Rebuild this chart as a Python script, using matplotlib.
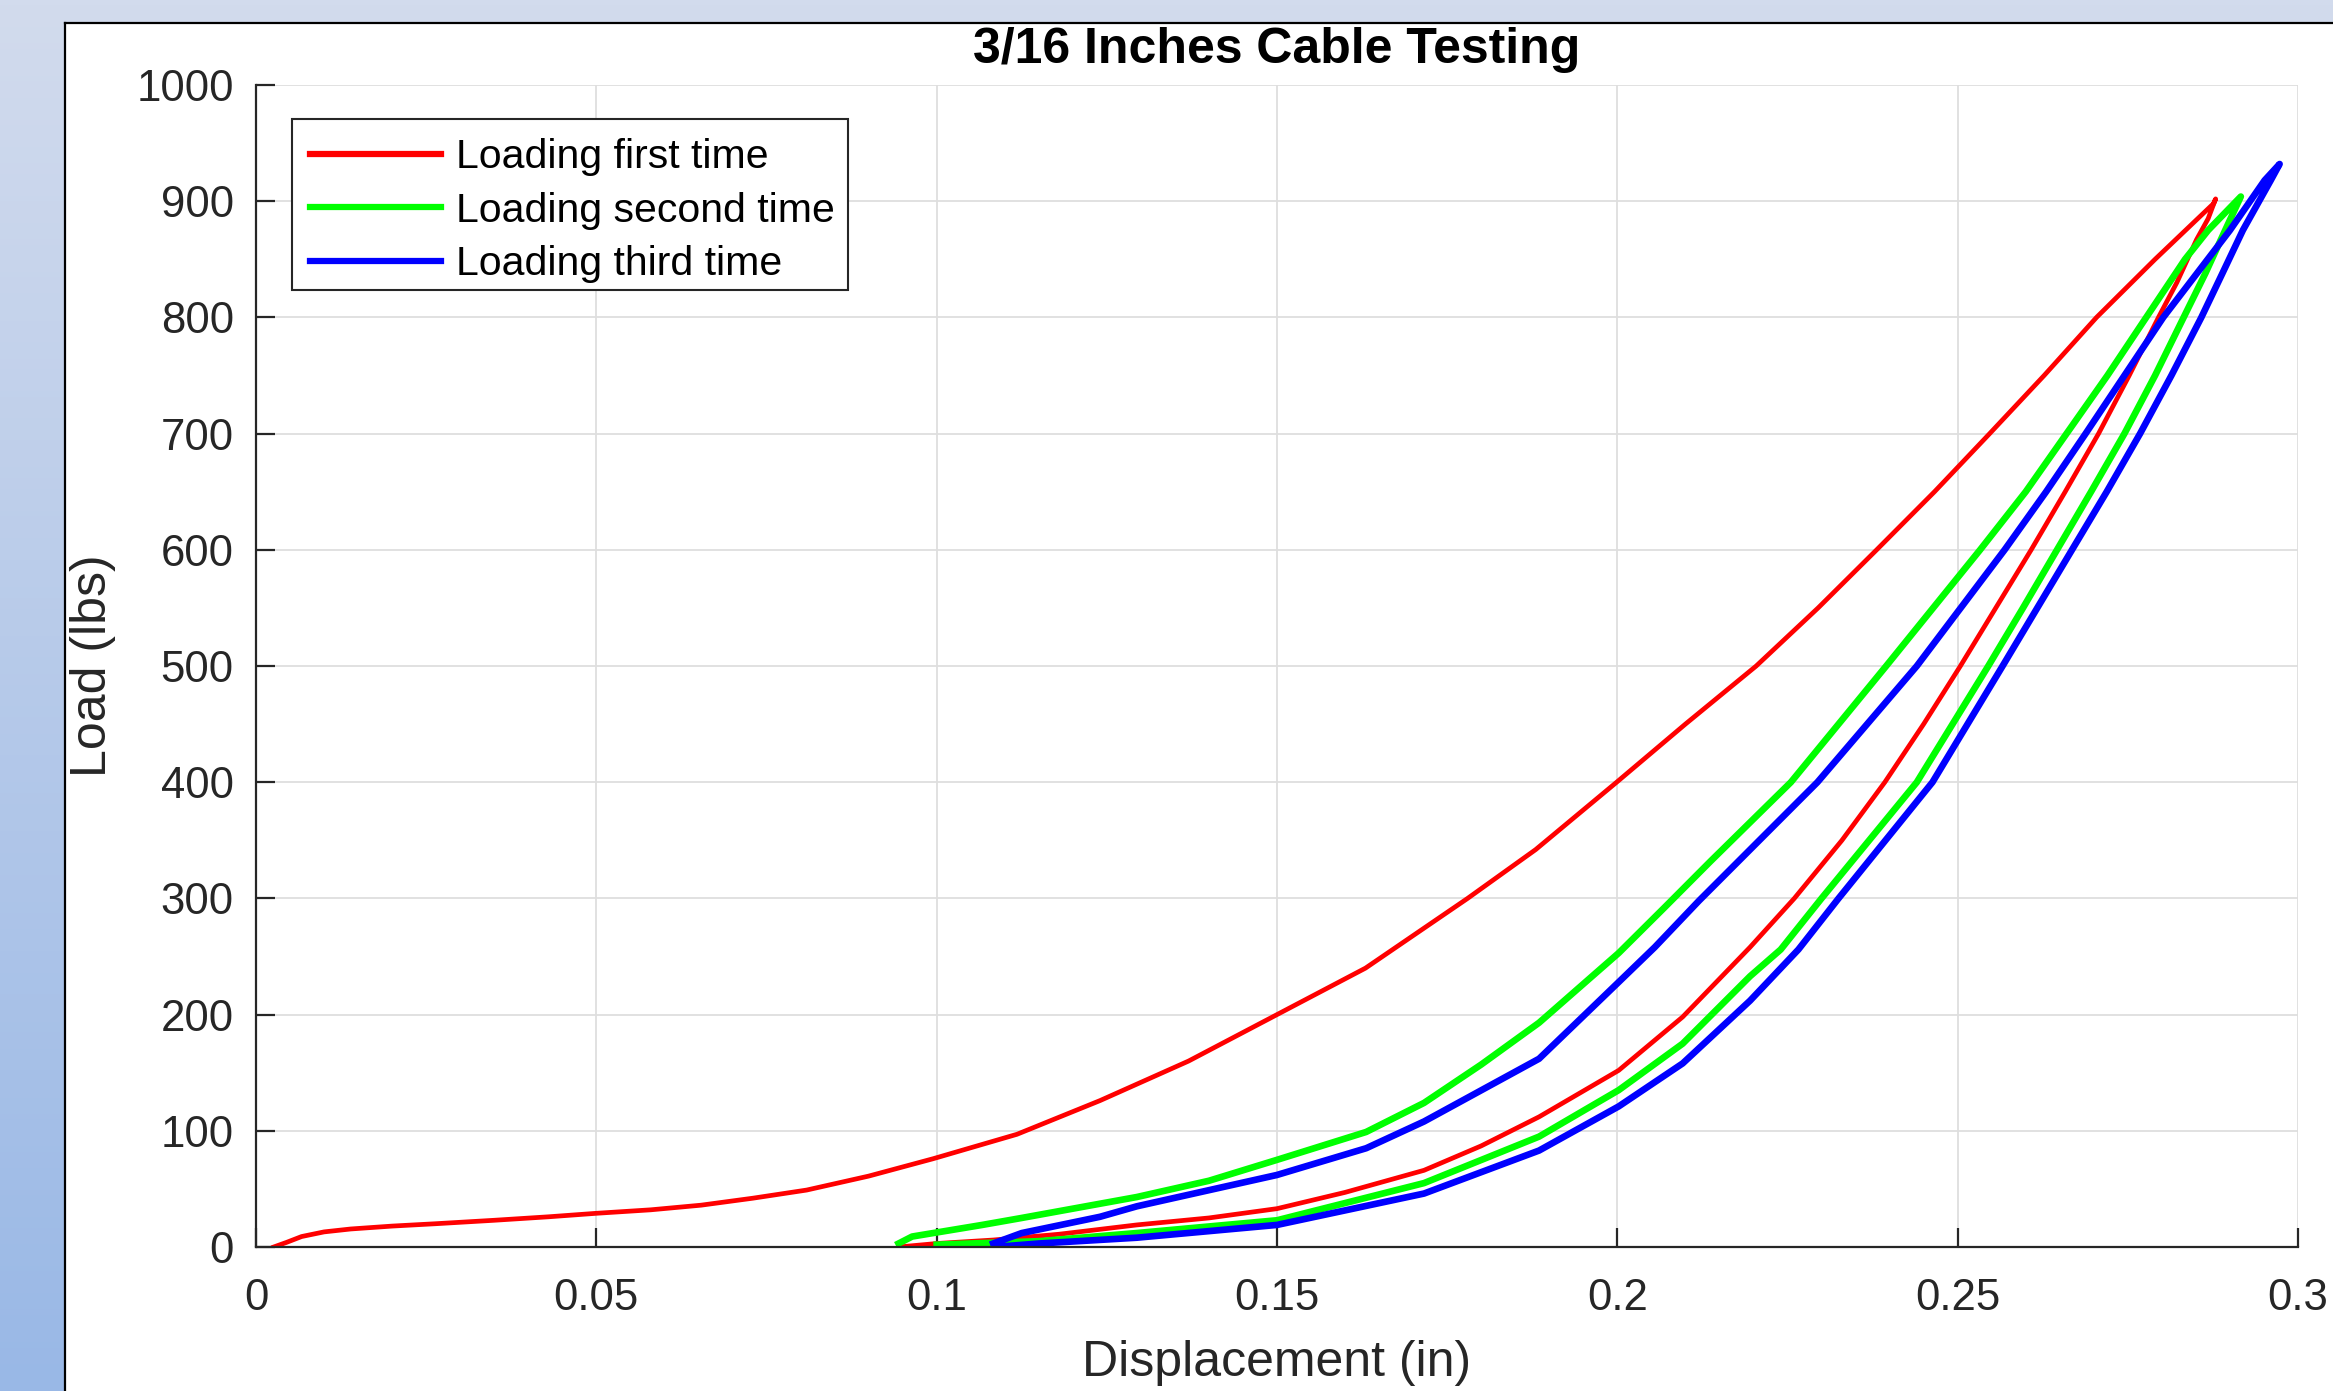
import numpy as np
import matplotlib
matplotlib.use('Agg')
import matplotlib.pyplot as plt
from matplotlib.lines import Line2D
from matplotlib.patches import Rectangle

plt.rcParams['font.family'] = ['Liberation Sans', 'DejaVu Sans']

# first loading cycle (loading branch then unloading branch)
disp_1 = [0.0026, 0.0045, 0.0067, 0.010, 0.0139, 0.020, 0.0263, 0.035, 0.043, 0.050,
          0.058, 0.0654, 0.073, 0.0809, 0.090, 0.0995, 0.1118, 0.124, 0.137, 0.150,
          0.163, 0.178, 0.188, 0.1999, 0.210, 0.2204, 0.2295, 0.2381, 0.2466, 0.2547,
          0.2627, 0.2704, 0.2790, 0.2876, 0.2879,
          0.2868, 0.2851, 0.2822, 0.2795, 0.2752, 0.2707, 0.2658, 0.2608, 0.2556,
          0.2504, 0.2450, 0.2393, 0.2330, 0.2260, 0.2195, 0.2096, 0.2002, 0.1885, 0.1800,
          0.1716, 0.1600, 0.1500, 0.1400, 0.1294, 0.1180, 0.1083, 0.1000, 0.0944]
load_1 = [0, 4, 9, 13, 15.5, 18, 20, 23, 26, 29,
          32, 36, 42, 49, 61, 76, 97, 126, 160, 200,
          240, 300, 342, 400, 450, 500, 550, 600, 650, 700,
          750, 800, 850, 898, 902,
          885, 867, 830, 800, 750, 700, 650, 600, 550,
          500, 450, 400, 350, 300, 258, 198, 152, 112, 87,
          66, 47, 33, 25, 19, 11, 6, 3, 0]

# second loading cycle
disp_2 = [0.0944, 0.0964, 0.1067, 0.1125, 0.1294, 0.140, 0.150, 0.1631, 0.1716, 0.180,
          0.1885, 0.2002, 0.2069, 0.2137, 0.2255, 0.2395, 0.2533, 0.2600, 0.2660, 0.2720,
          0.2777, 0.2834, 0.2868, 0.2916,
          0.2893, 0.2864, 0.2832, 0.2790, 0.2745, 0.2696, 0.2646, 0.2596, 0.2545, 0.2440,
          0.2300, 0.2240, 0.2195, 0.2096, 0.2002, 0.1885, 0.1716, 0.1500, 0.1294, 0.1150,
          0.1000]
load_2 = [3, 9, 19, 25, 43, 57, 75, 99, 124, 157,
          193, 253, 292, 332, 400, 500, 600, 650, 700, 750,
          800, 850, 875, 904,
          875, 838, 800, 750, 700, 650, 600, 550, 500, 400,
          300, 256, 233, 175, 135, 95, 55, 23, 12, 5,
          2]

# third loading cycle
disp_3 = [0.1083, 0.1125, 0.1240, 0.1294, 0.150, 0.1631, 0.1716, 0.1885, 0.2002, 0.2055,
          0.2120, 0.2294, 0.2440, 0.2569, 0.2630, 0.2688, 0.2745, 0.2802, 0.2900, 0.2951,
          0.2973,
          0.2960, 0.2919, 0.2889, 0.2858, 0.2814, 0.2768, 0.2719, 0.2668, 0.2617, 0.2566,
          0.2463, 0.2325, 0.2266, 0.2195, 0.2096, 0.2002, 0.1885, 0.1716, 0.1500, 0.1294,
          0.1150, 0.1085]
load_3 = [3, 12, 26, 35, 62, 85, 108, 162, 228, 258,
          298, 400, 500, 600, 650, 700, 750, 800, 875, 918,
          932,
          918, 875, 838, 800, 750, 700, 650, 600, 550, 500,
          400, 300, 256, 212, 158, 121, 83, 46, 19, 8,
          3, 0]

W, H = 2333, 1391
fig = plt.figure(figsize=(W / 100, H / 100), dpi=100)

# window background gradient
bg = fig.add_axes([0, 0, 1, 1], zorder=-10)
top_col = np.array([210, 219, 237]) / 255
bot_col = np.array([153, 184, 230]) / 255
t = np.linspace(0, 1, 256)[:, None]
grad = top_col * (1 - t[..., None]) + bot_col * t[..., None]
grad = np.repeat(grad, 4, axis=1)
bg.imshow(grad, aspect='auto', extent=[0, 1, 0, 1])
bg.set_axis_off()

# white figure panel with border on top and left
px0 = 65 / W
py1 = 1 - 23 / H
fig.add_artist(Rectangle((px0, 0), 1 - px0, py1, transform=fig.transFigure,
                         facecolor='white', edgecolor='none', zorder=-5))
fig.add_artist(Line2D([px0, px0], [0, py1], transform=fig.transFigure, color='black', lw=1.6, zorder=-4))
fig.add_artist(Line2D([px0, 1], [py1, py1], transform=fig.transFigure, color='black', lw=1.6, zorder=-4))

ax_col = '#262626'
ax = fig.add_axes([256 / W, 1 - 1247 / H, (2298 - 256) / W, (1247 - 85) / H])
ax.set_facecolor('white')

ax.plot(disp_1, load_1, color='#ff0000', lw=3.4, label='Loading first time', solid_joinstyle='round')
ax.plot(disp_2, load_2, color='#00ff00', lw=4.8, label='Loading second time', solid_joinstyle='round')
ax.plot(disp_3, load_3, color='#0000ff', lw=4.8, label='Loading third time', solid_joinstyle='round')

ax.set_xlim(0, 0.3)
ax.set_ylim(0, 1000)
ax.set_xticks([0, 0.05, 0.1, 0.15, 0.2, 0.25, 0.3])
ax.set_xticklabels(['0', '0.05', '0.1', '0.15', '0.2', '0.25', '0.3'])
ax.set_yticks(np.arange(0, 1001, 100))

ax.grid(True, color='#dedede', lw=1.3)
ax.set_axisbelow(True)
for s in ['top', 'right']:
    ax.spines[s].set_visible(False)
for s in ['left', 'bottom']:
    ax.spines[s].set_color(ax_col)
    ax.spines[s].set_linewidth(1.6)
ax.tick_params(direction='in', length=14, width=1.6, color=ax_col,
               labelcolor=ax_col, labelsize=31.5)
ax.tick_params(axis='x', pad=22)
ax.tick_params(axis='y', pad=16)

ax.set_xlabel('Displacement (in)', fontsize=36, color=ax_col, va='center')
ax.xaxis.set_label_coords(0.5, (1247 - 1363) / 1162)
ax.set_ylabel('Load (lbs)', fontsize=36, color=ax_col, va='center')
ax.yaxis.set_label_coords((93 - 256) / 2042, 0.5)

ax.text(0.5, (1247 - 63) / 1162, '3/16 Inches Cable Testing', transform=ax.transAxes,
        ha='center', va='baseline', fontsize=36, fontweight='bold', color='black')

# legend box drawn separately so it hugs the entries like MATLAB's
ax.add_patch(Rectangle(((291.5 - 256) / 2042, (1247 - 290) / 1162), 556 / 2042, 170.7 / 1162,
                       transform=ax.transAxes, facecolor='white', edgecolor=ax_col,
                       lw=1.5, zorder=4))
leg = ax.legend(loc='upper left', bbox_to_anchor=((291.5 - 256) / 2042, (1247 - 119.3) / 1162),
                borderaxespad=0, fontsize=29.5, frameon=False, handlelength=3.2,
                handletextpad=0.35, labelspacing=0.38, borderpad=0.46)
leg.set_zorder(5)
for h in leg.get_lines():
    h.set_linewidth(4.5)

fig.savefig('out.png', dpi=100)
